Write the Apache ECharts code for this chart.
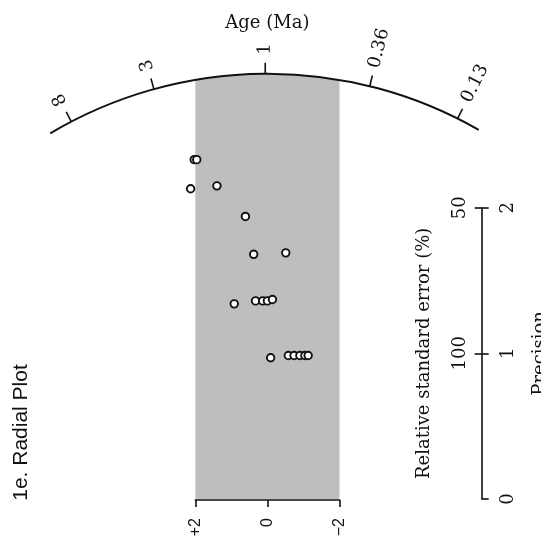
<!DOCTYPE html>
<html>
<head>
<meta charset="utf-8">
<script src="https://cdn.jsdelivr.net/npm/echarts@6/dist/echarts.min.js"></script>
<style>
  html, body { margin: 0; padding: 0; background: #fff; }
  #chart { width: 541px; height: 539px; }
</style>
</head>
<body>
<div id="chart"></div>
<script>
// Single-grain data: precision (1/sigma) and standardised estimate
const precision = [2.33, 2.33, 2.13, 2.15, 1.94, 1.68, 1.69, 1.34, 1.36, 1.36, 1.36, 1.37, 0.97, 0.985, 0.985, 0.985, 0.985, 0.985];
const standardEstimate = [2.03, 1.96, 2.13, 1.40, 0.61, 0.38, -0.51, 0.92, 0.33, 0.13, 0.00, -0.14, -0.09, -0.58, -0.74, -0.90, -1.04, -1.13];

// Age scale (Ma) read along the arc
const centralAge = 0.98;
const ageTicks = [8, 3, 1, 0.36, 0.13];
const ageTickLabels = ['8', '3', '1', '0.36', '0.13'];
const ageArcRange = [10.8, 0.097];

// Axis tick values
const stdTicks = [-2, 0, 2];
const precisionTicks = [0, 1, 2];
const rseTickPrecisions = [1, 2];   // precision values labelled with relative error (%)

// Arc radius, expressed as the precision reached on the reference line
const ARC_PRECISION = 2.92;
// ±2 band
const BAND = [2, -2];

const INK = '#111';
const SERIF = '"DejaVu Serif", "Liberation Serif", serif';
const SANS = '"Liberation Sans", Arial, sans-serif';

function fmtStd(v) {
  if (v > 0) return '+' + v;
  if (v < 0) return '\u2212' + (-v);
  return '0';
}

function renderScale(params, api) {
  const O = api.coord([0, 0]);
  const R = O[1] - api.coord([0, ARC_PRECISION])[1];
  const dir = (t) => {
    const slope = Math.log(t) - Math.log(centralAge);
    const p = api.coord([slope, 1]);
    const dx = p[0] - O[0], dy = p[1] - O[1];
    const L = Math.hypot(dx, dy);
    return [dx / L, dy / L];
  };
  const children = [];

  // shaded ±2 band, closed by the arc
  const bl = api.coord([BAND[0], 0]);
  const br = api.coord([BAND[1], 0]);
  const pts = [[bl[0], bl[1]]];
  const n = 60;
  for (let i = 0; i <= n; i++) {
    const x = bl[0] + (br[0] - bl[0]) * i / n;
    const dx = x - O[0];
    pts.push([x, O[1] - Math.sqrt(R * R - dx * dx)]);
  }
  pts.push([br[0], br[1]]);
  children.push({ type: 'polygon', shape: { points: pts }, style: { fill: '#bebebe' } });

  // age arc
  const d0 = dir(ageArcRange[0]);
  const d1 = dir(ageArcRange[1]);
  children.push({
    type: 'arc',
    shape: { cx: O[0], cy: O[1], r: R, startAngle: Math.atan2(d0[1], d0[0]), endAngle: Math.atan2(d1[1], d1[0]), clockwise: true },
    style: { stroke: INK, lineWidth: 2, fill: null }
  });

  // age ticks and labels
  ageTicks.forEach((t, i) => {
    const d = dir(t);
    children.push({
      type: 'line',
      shape: { x1: O[0] + d[0] * R, y1: O[1] + d[1] * R, x2: O[0] + d[0] * (R + 11), y2: O[1] + d[1] * (R + 11) },
      style: { stroke: INK, lineWidth: 1.6 }
    });
    children.push({
      type: 'text',
      x: O[0] + d[0] * (R + 19),
      y: O[1] + d[1] * (R + 19),
      rotation: Math.atan2(-d[1], d[0]),
      style: {
        text: ageTickLabels[i], fontFamily: SERIF, fontSize: 18, fill: INK,
        align: 'left', verticalAlign: 'middle', textAlign: 'left', textVerticalAlign: 'middle'
      }
    });
  });

  children.push({
    type: 'text',
    x: O[0],
    y: O[1] - R - 50,
    style: {
      text: 'Age (Ma)', fontFamily: SERIF, fontSize: 18, fill: INK,
      align: 'center', verticalAlign: 'middle', textAlign: 'center', textVerticalAlign: 'middle'
    }
  });

  return { type: 'group', children };
}

const chart = echarts.init(document.getElementById('chart'), null, { renderer: 'canvas' });

const lineStyle = { color: INK, width: 1.6 };

chart.setOption({
  animation: false,
  backgroundColor: '#fff',
  grid: { left: 195.3, right: 201.5, top: 207.7, bottom: 40, containLabel: false, outerBoundsMode: 'none' },
  xAxis: {
    type: 'value', inverse: true, min: -2, max: 2, interval: 2, offset: 1,
    axisLine: { show: true, onZero: false, lineStyle },
    axisTick: { show: true, length: 7, lineStyle, customValues: stdTicks },
    axisLabel: { rotate: 90, margin: 18, fontFamily: SANS, fontSize: 16, color: INK, customValues: stdTicks, formatter: fmtStd },
    splitLine: { show: false }
  },
  yAxis: [
    {
      type: 'value', position: 'right', offset: 142.2, min: 0, max: 2, interval: 1,
      name: 'Precision', nameLocation: 'middle', nameRotate: 90, nameGap: 50,
      nameTextStyle: { fontFamily: SERIF, fontSize: 18, color: INK },
      axisLine: { show: true, onZero: false, lineStyle },
      axisTick: { show: true, length: 7, lineStyle, customValues: precisionTicks },
      axisLabel: { rotate: 90, margin: 18, fontFamily: SERIF, fontSize: 18, color: INK, customValues: precisionTicks },
      splitLine: { show: false }
    },
    {
      type: 'value', position: 'left', offset: -286.4, min: 0, max: 2, interval: 1,
      name: 'Relative standard error (%)', nameLocation: 'middle', nameRotate: 90, nameGap: 48,
      nameTextStyle: { fontFamily: SERIF, fontSize: 18, color: INK },
      axisLine: { show: false, onZero: false },
      axisTick: { show: true, length: 7, lineStyle, customValues: rseTickPrecisions },
      axisLabel: {
        rotate: 90, margin: 12, fontFamily: SERIF, fontSize: 18, color: INK,
        customValues: rseTickPrecisions, formatter: v => String(Math.round(100 / v))
      },
      splitLine: { show: false }
    }
  ],
  graphic: [{
    type: 'text', x: 21.7, y: 432.5, rotation: Math.PI / 2,
    style: {
      text: '1e. Radial Plot', fontFamily: SANS, fontSize: 21, fill: INK,
      align: 'center', verticalAlign: 'middle', textAlign: 'center', textVerticalAlign: 'middle'
    }
  }],
  series: [
    {
      type: 'custom', coordinateSystem: 'cartesian2d', data: [[0, 0]],
      renderItem: renderScale, clip: false, silent: true, z: 1
    },
    {
      type: 'scatter', clip: false, silent: true, z: 5,
      data: precision.map((p, i) => [standardEstimate[i], p]),
      symbol: 'circle', symbolSize: 7.5,
      itemStyle: { color: '#fff', borderColor: INK, borderWidth: 1.9, opacity: 1 }
    }
  ]
});
</script>
</body>
</html>
